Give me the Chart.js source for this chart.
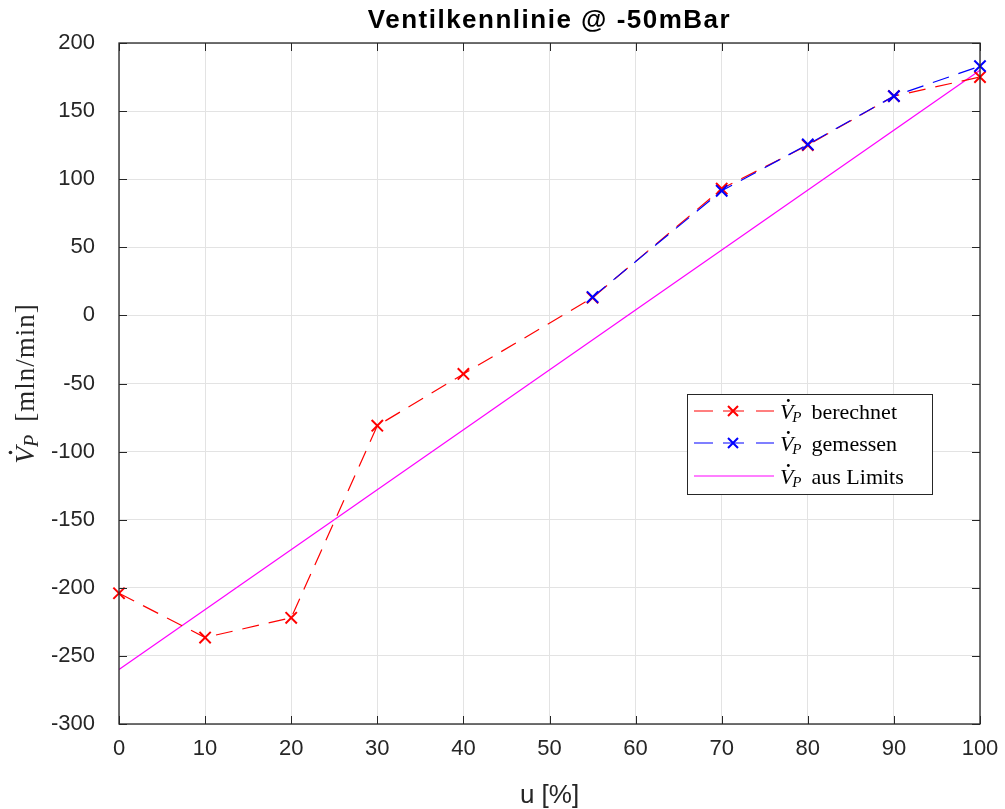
<!DOCTYPE html>
<html>
<head>
<meta charset="utf-8">
<script src="https://cdn.jsdelivr.net/npm/chart.js@4.4.0/dist/chart.umd.min.js"></script>
<style>
  body { margin: 0; background: #fff; }
</style>
</head>
<body>
<canvas id="canva" width="1005" height="809"></canvas>
<script>
// Ventilstellung u [%] und Volumenstrom [mln/min]
const stellungBerechnet = [0, 10, 20, 30, 40, 55, 70, 80, 90, 100];
const flussBerechnet = [-204, -236.5, -222, -81, -43, 13, 93, 125, 161, 175];
const stellungGemessen = [55, 70, 80, 90, 100];
const flussGemessen = [13.5, 91.5, 125.5, 161, 183];
const stellungLimits = [0, 100];
const flussLimits = [-260, 180];

const titel = "Ventilkennlinie @ -50mBar";
const legendeTexte = ["berechnet", "gemessen", "aus Limits"];
const legendeFarben = ["#ff0000", "#0000ff", "#ff00ff"];

const paare = (xs, ys) => xs.map((x, i) => ({ x: x, y: ys[i] }));

const colorTexto = "#262626";
const colorLineas = "#e3e3e3";
const serif = "'Liberation Serif', 'DejaVu Serif', serif";
const sans = "'Liberation Sans', Arial, sans-serif";

// dibuja V con punto y subíndice P, devuelve el ancho
function dibujarVP(ctx, x, y, size) {
  ctx.font = "italic " + size + "px " + serif;
  ctx.textBaseline = "alphabetic";
  ctx.textAlign = "left";
  ctx.fillText("V", x, y);
  const wV = ctx.measureText("V").width;
  ctx.beginPath();
  ctx.arc(x + wV * 0.62, y - size * 0.84, size * 0.065, 0, Math.PI * 2);
  ctx.fill();
  ctx.font = "italic " + Math.round(size * 0.7) + "px " + serif;
  ctx.fillText("P", x + wV - size * 0.05, y + size * 0.15);
  const wP = ctx.measureText("P").width;
  return wV - size * 0.05 + wP;
}

const matlabPlugin = {
  id: "matlab",
  afterDraw(chart) {
    const ctx = chart.ctx;
    const a = chart.chartArea;
    const xs = chart.scales.x;
    const ys = chart.scales.y;
    ctx.save();

    // caja y marcas hacia dentro
    ctx.strokeStyle = colorTexto;
    ctx.lineWidth = 1.3;
    ctx.strokeRect(a.left, a.top, a.right - a.left, a.bottom - a.top);
    ctx.beginPath();
    xs.ticks.forEach(t => {
      const px = Math.round(xs.getPixelForValue(t.value)) + 0.5;
      ctx.moveTo(px, a.bottom); ctx.lineTo(px, a.bottom - 8);
      ctx.moveTo(px, a.top); ctx.lineTo(px, a.top + 8);
    });
    ys.ticks.forEach(t => {
      const py = Math.round(ys.getPixelForValue(t.value)) + 0.5;
      ctx.moveTo(a.left, py); ctx.lineTo(a.left + 8, py);
      ctx.moveTo(a.right, py); ctx.lineTo(a.right - 8, py);
    });
    ctx.lineWidth = 1;
    ctx.stroke();

    // título
    ctx.fillStyle = "#000";
    ctx.font = "bold 26px " + sans;
    ctx.letterSpacing = "1.5px";
    ctx.textAlign = "center";
    ctx.textBaseline = "middle";
    ctx.fillText(titel, (a.left + a.right) / 2, 21);
    ctx.letterSpacing = "0px";

    // título eje x
    ctx.fillStyle = colorTexto;
    ctx.font = "26px " + sans;
    ctx.fillText("u [%]", (a.left + a.right) / 2, 796);

    // título eje y (rotado)
    ctx.save();
    ctx.translate(34, (a.top + a.bottom) / 2 - 3);
    ctx.rotate(-Math.PI / 2);
    ctx.fillStyle = colorTexto;
    const resto = "[mln/min]";
    ctx.font = "27px " + serif;
    ctx.letterSpacing = "1px";
    const wResto = ctx.measureText(resto).width;
    const wTotal = 36 + 12 + wResto;
    const x0 = -wTotal / 2;
    const wVP = dibujarVP(ctx, x0, 0, 28);
    ctx.font = "27px " + serif;
    ctx.textAlign = "left";
    ctx.textBaseline = "alphabetic";
    ctx.fillText(resto, x0 + wVP + 12, 0);
    ctx.letterSpacing = "0px";
    ctx.restore();

    // leyenda
    const lx = 687, ly = 394, lw = 245, lh = 100;
    ctx.fillStyle = "#fff";
    ctx.fillRect(lx, ly, lw, lh);
    ctx.strokeStyle = colorTexto;
    ctx.lineWidth = 1;
    ctx.strokeRect(lx + 0.5, ly + 0.5, lw, lh);
    const filas = [411, 443, 476];
    filas.forEach((fy, i) => {
      ctx.strokeStyle = legendeFarben[i];
      ctx.lineWidth = 1.2;
      ctx.beginPath();
      if (i < 2) {
        ctx.moveTo(694, fy); ctx.lineTo(713, fy);
        ctx.moveTo(723, fy); ctx.lineTo(744, fy);
        ctx.moveTo(756, fy); ctx.lineTo(774, fy);
        ctx.stroke();
        ctx.lineWidth = 2;
        ctx.beginPath();
        ctx.moveTo(728, fy - 5); ctx.lineTo(738, fy + 5);
        ctx.moveTo(728, fy + 5); ctx.lineTo(738, fy - 5);
        ctx.stroke();
      } else {
        ctx.moveTo(694, fy); ctx.lineTo(774, fy);
        ctx.stroke();
      }
      ctx.fillStyle = "#000";
      const w = dibujarVP(ctx, 780, fy + 8, 22);
      ctx.font = "22px " + serif;
      ctx.textAlign = "left";
      ctx.fillText(legendeTexte[i], 780 + w + 10, fy + 8);
    });

    ctx.restore();
  }
};

const ctx = document.getElementById("canva").getContext("2d");
new Chart(ctx, {
  type: "line",
  data: {
    datasets: [
      {
        label: "gemessen",
        data: paare(stellungGemessen, flussGemessen),
        borderColor: "#0000ff",
        borderWidth: 1.2,
        borderDash: [17, 10],
        pointStyle: "crossRot",
        pointRadius: 8,
        pointBorderWidth: 2,
        pointBorderColor: "#0000ff",
        fill: false,
        clip: false,
        order: 0
      },
      {
        label: "berechnet",
        data: paare(stellungBerechnet, flussBerechnet),
        borderColor: "#ff0000",
        borderWidth: 1.2,
        borderDash: [17, 10],
        pointStyle: "crossRot",
        pointRadius: 8,
        pointBorderWidth: 2,
        pointBorderColor: "#ff0000",
        fill: false,
        clip: false,
        order: 1
      },
      {
        label: "aus Limits",
        data: paare(stellungLimits, flussLimits),
        borderColor: "#ff00ff",
        borderWidth: 1.2,
        pointRadius: 0,
        fill: false,
        order: 2
      }
    ]
  },
  options: {
    responsive: false,
    animation: false,
    layout: { padding: { top: 43, right: 25, left: 0, bottom: 0 } },
    plugins: {
      legend: { display: false },
      title: { display: false },
      tooltip: { enabled: false }
    },
    scales: {
      x: {
        type: "linear",
        min: 0,
        max: 100,
        ticks: {
          stepSize: 10,
          color: colorTexto,
          font: { size: 22, family: sans },
          padding: 12,
          maxRotation: 0
        },
        grid: { color: colorLineas, drawTicks: false },
        border: { display: false },
        afterFit: s => { s.height = 85; s.paddingLeft = 0; s.paddingRight = 0; }
      },
      y: {
        min: -300,
        max: 200,
        ticks: {
          stepSize: 50,
          color: colorTexto,
          font: { size: 22, family: sans },
          padding: 24
        },
        grid: { color: colorLineas, drawTicks: false },
        border: { display: false },
        afterFit: s => { s.width = 119; s.paddingTop = 0; s.paddingBottom = 0; }
      }
    }
  },
  plugins: [matlabPlugin]
});
</script>
</body>
</html>
